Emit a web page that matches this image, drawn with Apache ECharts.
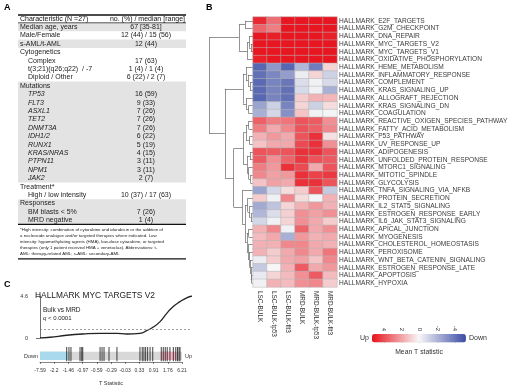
<!DOCTYPE html>
<html>
<head>
<meta charset="utf-8">
<script src="https://cdn.jsdelivr.net/npm/echarts@6/dist/echarts.min.js"></script>
<style>html,body{margin:0;padding:0;background:#fff}#main{width:520px;height:388px}</style>
</head>
<body>
<div id="main"></div>
<script>
// ---------- panel A : patient table
const tableHeader = ['Characteristic (N =27)', 'no. (%) / median [range]'];
const tableGroups = [
  { title: 'Median age, years', value: '67 [35-81]' },
  { title: 'Male/Female', value: '12 (44) / 15 (56)' },
  { title: 's-AML/t-AML', value: '12 (44)' },
  { title: 'Cytogenetics', items: [['Complex', '17 (63)'], ['t(3;21)(q26;q22)  / -7', '1 (4) / 1 (4)'], ['Diploid / Other', '6 (22) / 2 (7)']] },
  { title: 'Mutations', items: [['TP53', '16 (59)'], ['FLT3', '9 (33)'], ['ASXL1', '7 (26)'], ['TET2', '7 (26)'], ['DNMT3A', '7 (26)'],
      ['IDH1/2', '6 (22)'], ['RUNX1', '5 (19)'], ['KRAS/NRAS', '4 (15)'], ['PTPN11', '3 (11)'], ['NPM1', '3 (11)'], ['JAK2', '2 (7)']] },
  { title: 'Treatment*', items: [['High / low intensity', '10 (37) / 17 (63)']] },
  { title: 'Responses', items: [['BM blasts < 5%', '7 (26)'], ['MRD negative', '1 (4)']] }
];
const footnoteLines = [
  '*High intensity: combination of cytarabine and idarubicin or the addition of',
  'a nucleoside analogue and/or targeted therapies where indicated. Low',
  'intensity: hypomethylating agents (HMA), low-dose cytarabine, or targeted',
  'therapies (only 1 patient received HMA + venetoclax). Abbreviations: t-',
  'AML: therapy-related AML; s-AML: secondary-AML'
];

// ---------- panel B : heatmap of mean T statistic
const contrasts = ['LSC-BULK', 'LSC-BULK-tp53', 'LSC-BULK-flt3', 'MRD-BULK', 'MRD-BULK-tp53', 'MRD-BULK-flt3'];
const pathways = [
  'HALLMARK_E2F_TARGETS', 'HALLMARK_G2M_CHECKPOINT', 'HALLMARK_DNA_REPAIR', 'HALLMARK_MYC_TARGETS_V2', 'HALLMARK_MYC_TARGETS_V1',
  'HALLMARK_OXIDATIVE_PHOSPHORYLATION', 'HALLMARK_HEME_METABOLISM', 'HALLMARK_INFLAMMATORY_RESPONSE', 'HALLMARK_COMPLEMENT',
  'HALLMARK_KRAS_SIGNALING_UP', 'HALLMARK_ALLOGRAFT_REJECTION', 'HALLMARK_KRAS_SIGNALING_DN', 'HALLMARK_COAGULATION',
  'HALLMARK_REACTIVE_OXIGEN_SPECIES_PATHWAY', 'HALLMARK_FATTY_ACID_METABOLISM', 'HALLMARK_P53_PATHWAY', 'HALLMARK_UV_RESPONSE_UP',
  'HALLMARK_ADIPOGENESIS', 'HALLMARK_UNFOLDED_PROTEIN_RESPONSE', 'HALLMARK_MTORC1_SIGNALING', 'HALLMARK_MITOTIC_SPINDLE',
  'HALLMARK_GLYCOLYSIS', 'HALLMARK_TNFA_SIGNALING_VIA_NFKB', 'HALLMARK_PROTEIN_SECRETION', 'HALLMARK_IL2_STAT5_SIGNALING',
  'HALLMARK_ESTROGEN_RESPONSE_EARLY', 'HALLMARK_IL6_JAK_STAT3_SIGNALING', 'HALLMARK_APICAL_JUNCTION', 'HALLMARK_MYOGENESIS',
  'HALLMARK_CHOLESTEROL_HOMEOSTASIS', 'HALLMARK_PEROXISOME', 'HALLMARK_WNT_BETA_CATENIN_SIGNALING', 'HALLMARK_ESTROGEN_RESPONSE_LATE',
  'HALLMARK_APOPTOSIS', 'HALLMARK_HYPOXIA'
];
const meanT = [
  [4.8, 3.2, 5.2, 5.2, 5.2, 5.2],
  [3.4, 2.8, 5.2, 5.2, 5.2, 5.2],
  [5.2, 5.0, 5.2, 5.2, 5.2, 5.0],
  [5.2, 5.2, 5.2, 5.2, 5.2, 5.2],
  [5.2, 5.2, 5.2, 5.2, 5.2, 5.2],
  [5.0, 5.2, 5.2, 5.2, 5.2, 5.2],
  [-4.5, -3.0, -4.5, -2.0, -3.8, 0.8],
  [-4.2, -3.5, -2.8, -0.3, 0.8, -1.2],
  [-4.4, -3.6, -4.0, -0.8, -0.2, -0.9],
  [-4.4, -3.6, -4.2, -0.9, -0.2, -2.2],
  [-4.5, -3.6, -4.2, 1.0, 1.6, 1.5],
  [-2.6, -1.2, -3.6, 0.8, -1.2, 0.6],
  [-2.2, -1.0, -3.2, 1.2, -0.2, -0.1],
  [3.5, 2.8, 3.0, 3.8, 3.6, 2.4],
  [2.8, 1.8, 2.6, 3.8, 3.5, 2.6],
  [1.6, 2.2, 1.8, 3.8, 4.6, 0.5],
  [1.2, 1.8, 1.8, 4.0, 4.6, 2.4],
  [3.8, 3.6, 3.8, 4.6, 4.6, 3.8],
  [3.6, 2.4, 3.4, 4.4, 3.8, 3.6],
  [2.8, 2.2, 4.6, 4.0, 1.8, 3.8],
  [2.6, 2.0, 2.2, 4.6, 4.2, 4.4],
  [1.2, 2.0, 1.8, 4.6, 4.6, 3.8],
  [-2.6, -1.0, 0.6, 1.0, 3.8, -1.4],
  [1.0, -0.2, 2.6, 0.6, -0.1, 1.6],
  [-2.4, -1.6, 0.8, 1.6, 2.2, 1.6],
  [-2.0, -0.8, 0.9, 2.4, 2.0, 2.4],
  [-1.0, -0.2, 0.8, 2.4, 1.8, 1.0],
  [1.6, 2.6, -0.2, 3.4, 1.8, 2.4],
  [1.4, 1.8, -2.2, 2.2, 1.6, 1.8],
  [1.6, 1.6, 2.6, 2.6, 1.8, 1.6],
  [1.6, 1.0, 1.8, 2.6, 1.8, 3.0],
  [-0.3, 1.0, 1.8, 2.0, 1.2, 2.6],
  [-1.4, 0.0, 1.6, 3.6, 1.8, 2.2],
  [-0.4, 0.8, 1.4, 2.4, 3.6, 1.4],
  [-0.2, 1.6, 1.4, 2.4, 2.6, 1.0]
];
// row clustering: [left, right, height], leaves are row indexes
const dendroTree = [
  [[0, 1, 0.18], [[2, [3, 4, 0.05], 0.09], 5, 0.13], 0.32],
  [
    [[6, [7, [8, 9, 0.07], 0.11], 0.16], [10, [11, 12, 0.1], 0.15], 0.23],
    [
      [[[13, 14, 0.1], [15, 16, 0.08], 0.16], [[17, 18, 0.07], [19, [20, 21, 0.06], 0.1], 0.13], 0.22],
      [22, [[23, [24, [25, 26, 0.05], 0.08], 0.12], [[27, 28, 0.1], [29, [30, [31, [32, [33, 34, 0.03], 0.05], 0.07], 0.09], 0.11], 0.14], 0.18], 0.25],
      0.44
    ],
    0.64
  ],
  1
];

// ---------- panel C : GSEA running score
const curveRank = [0, 6.6, 17.5, 28.3, 39.5, 50.5, 57, 65.8, 70.2, 74.3, 79, 83.4, 87.5, 92.1, 96.5, 100];
const curveES = [0, 0.08, 0.3, 0.44, 0.51, 0.51, 0.44, 0.51, 0.8, 1.17, 1.79, 2.7, 3.43, 3.98, 4.4, 4.6];
const esCutoff = 1;
const tStatLabels = ['-7.59', '-2.2', '-1.46', '-0.97', '-0.59', '-0.29', '-0.03', '0.33', '0.91', '1.76', '6.21'];
const geneHits = [1.88, 2.04, 2.18, 2.82, 2.94, 3.01, 4.23, 4.37, 4.51, 4.86, 5.42, 7.04, 7.2, 7.32, 7.44, 7.58, 7.75, 7.94,
  8.54, 8.68, 8.82, 8.96, 9.15, 9.39, 9.56, 9.68, 9.79, 9.86];
const barcodeBands = [[0, 10, 0], [0, 1.97, 1], [8.5, 9.6, 2]]; // start, end, kind (0 all, 1 down, 2 up)

const FONT = '"Liberation Sans", Arial, sans-serif';
const bandColors = ['#d8d8d8', '#a9d9ec', '#f4b3c2'];

const chart = echarts.init(document.getElementById('main'));

// graphic helpers
const under = [], over = [];
function text(x, y, s, size, opt) {
  over.push({
    type: 'text', silent: true,
    style: Object.assign({
      x, y, text: s, font: size + 'px ' + FONT, fill: '#222',
      textAlign: 'left', align: 'left', textVerticalAlign: 'middle', verticalAlign: 'middle'
    }, opt || {})
  });
}
function hline(x1, x2, y, w) {
  over.push({ type: 'line', silent: true, shape: { x1, y1: y, x2, y2: y }, style: { stroke: '#111', lineWidth: w } });
}

// panel letters
text(4, 8, 'A', 9, { font: 'bold 9px ' + FONT, fill: '#000' });
text(206, 8, 'B', 9, { font: 'bold 9px ' + FONT, fill: '#000' });
text(4, 285, 'C', 9, { font: 'bold 9px ' + FONT, fill: '#000' });

// table
const TX0 = 18, TX1 = 186, COL2 = 146, ROW0 = 27, ROWH = 8.4;
hline(TX0, TX1, 15, 1.3);
text(20, 19, tableHeader[0], 7, { fill: '#111' });
text(TX1 - 1, 19, tableHeader[1], 7, { fill: '#111', textAlign: 'right', align: 'right' });
hline(TX0, TX1, ROW0 - ROWH / 2, 0.7);
let r = 0;
tableGroups.forEach((grp, gi) => {
  const n = 1 + (grp.items ? grp.items.length : 0);
  if (gi % 2 === 0) {
    under.push({ type: 'rect', silent: true, shape: { x: TX0, y: ROW0 + r * ROWH - ROWH / 2, width: TX1 - TX0, height: n * ROWH }, style: { fill: '#e3e3e3' } });
  }
  text(20, ROW0 + r * ROWH, grp.title, 7);
  if (grp.value) text(COL2, ROW0 + r * ROWH, grp.value, 7, { textAlign: 'center', align: 'center' });
  r++;
  (grp.items || []).forEach(it => {
    const ital = grp.title === 'Mutations' ? 'italic ' : '';
    text(28, ROW0 + r * ROWH, it[0], 7, { font: ital + '7px ' + FONT });
    text(COL2, ROW0 + r * ROWH, it[1], 7, { textAlign: 'center', align: 'center' });
    r++;
  });
});
const tableEnd = ROW0 + r * ROWH - ROWH / 2;
hline(TX0, TX1, tableEnd, 1.3);
footnoteLines.forEach((l, i) => text(20, tableEnd + 5 + i * 6, l, 4.4, { fill: '#222' }));
hline(TX0, TX1, tableEnd + 5 + footnoteLines.length * 6 - 0.5, 1.3);

// panel C texts
text(35, 296, 'HALLMARK MYC TARGETS V2', 8.4, { fill: '#222' });
text(43, 310, 'Bulk vs MRD', 6.5, { fill: '#222' });
over.push({
  type: 'text', silent: true,
  style: { x: 43, y: 318, text: '{i|q} < 0.0001', fontSize: 6, fontFamily: FONT, fill: '#222', verticalAlign: 'middle', textVerticalAlign: 'middle',
    rich: { i: { fontStyle: 'italic', fontSize: 6, fontFamily: FONT, fill: '#222' } } }
});
text(38, 356, 'Down', 5.5, { textAlign: 'right', align: 'right', fill: '#333' });
text(185, 356, 'Up', 5.5, { fill: '#333' });
text(419, 352, 'Mean T statistic', 6.8, { textAlign: 'center', align: 'center', fill: '#333' });

// dendrogram segments from the tree
const segs = [];
function walk(node) {
  if (typeof node === 'number') return { y: node + 0.5, h: 0 };
  const a = walk(node[0]), b = walk(node[1]), h = node[2];
  segs.push({ coords: [[a.h, a.y], [h, a.y]] });
  segs.push({ coords: [[b.h, b.y], [h, b.y]] });
  segs.push({ coords: [[h, a.y], [h, b.y]] });
  return { y: (a.y + b.y) / 2, h };
}
walk(dendroTree);

const heatData = [];
meanT.forEach((row, i) => row.forEach((v, j) => heatData.push([j, i, v])));

const noOuter = { outerBoundsMode: 'none', containLabel: false };
const axisTxt = { fontFamily: FONT, color: '#333' };

chart.setOption({
  animation: false,
  backgroundColor: '#fff',
  textStyle: { fontFamily: FONT },
  grid: [
    Object.assign({ left: 209, top: 17, width: 44, height: 270 }, noOuter),
    Object.assign({ left: 253, top: 17, width: 84, height: 270 }, noOuter),
    Object.assign({ left: 384, top: 334, width: 71, height: 8.5 }, noOuter),
    Object.assign({ left: 40, top: 296, width: 152, height: 42 }, noOuter),
    Object.assign({ left: 40, top: 347, width: 142, height: 15 }, noOuter)
  ],
  xAxis: [
    { gridIndex: 0, type: 'value', min: 0, max: 1, inverse: true, show: false },
    { gridIndex: 1, type: 'category', data: contrasts, axisLine: { show: false }, axisTick: { show: false },
      axisLabel: Object.assign({ rotate: -90, fontSize: 6.4, margin: 4, interval: 0 }, axisTxt) },
    { gridIndex: 2, type: 'value', min: -4, max: 4, interval: 2, inverse: true, position: 'top',
      axisLine: { show: false }, splitLine: { show: false },
      axisTick: { show: true, length: 2, lineStyle: { color: '#333', width: 0.6 } },
      axisLabel: Object.assign({ rotate: -90, fontSize: 6, margin: 3 }, axisTxt) },
    { gridIndex: 3, type: 'value', min: 0, max: 100, show: false },
    { gridIndex: 4, type: 'value', min: 0, max: 10, interval: 1, offset: 4, splitLine: { show: false },
      axisLine: { show: true, lineStyle: { color: '#333', width: 0.6 } },
      axisTick: { show: true, length: 2, lineStyle: { color: '#333', width: 0.6 } },
      axisLabel: Object.assign({ fontSize: 5, margin: 2.5, formatter: v => tStatLabels[Math.round(v)] }, axisTxt),
      name: 'T Statistic', nameLocation: 'middle', nameGap: 14, nameTextStyle: Object.assign({ fontSize: 5.5 }, axisTxt) }
  ],
  yAxis: [
    { gridIndex: 0, type: 'value', min: 0, max: 35, inverse: true, show: false },
    { gridIndex: 1, type: 'category', data: pathways, inverse: true, position: 'right',
      axisLine: { show: false }, axisTick: { show: false },
      axisLabel: Object.assign({ fontSize: 6.6, margin: 2, interval: 0 }, axisTxt, { color: '#3a3a3a' }) },
    { gridIndex: 2, type: 'value', show: false },
    { gridIndex: 3, type: 'value', min: 0, max: 4.6, interval: 4.6, splitLine: { show: false },
      axisLine: { show: true, lineStyle: { color: '#333', width: 0.7 } },
      axisTick: { show: true, length: 4, lineStyle: { color: '#333', width: 0.7 } },
      axisLabel: Object.assign({ fontSize: 5.5, margin: 12 }, axisTxt) },
    { gridIndex: 4, type: 'value', min: 0, max: 1, show: false }
  ],
  visualMap: {
    type: 'continuous', seriesIndex: 1, dimension: 2, min: -5.3, max: 5.3, calculable: false,
    orient: 'horizontal', inverse: true, left: 360, top: 334, padding: 0, itemWidth: 8.5, itemHeight: 94,
    text: ['Up', 'Down'], textGap: 3, textStyle: { fontSize: 7, color: '#333', fontFamily: FONT },
    inRange: { color: ['#3b4da5', '#f7f7f7', '#e8121c'] }
  },
  series: [
    { type: 'lines', coordinateSystem: 'cartesian2d', xAxisIndex: 0, yAxisIndex: 0, silent: true,
      lineStyle: { color: '#666', width: 0.7, opacity: 1 }, data: segs },
    { type: 'heatmap', xAxisIndex: 1, yAxisIndex: 1, data: heatData, silent: true,
      itemStyle: { borderColor: '#b4b4b4', borderWidth: 0.5 } },
    { type: 'line', xAxisIndex: 3, yAxisIndex: 3, smooth: true, symbol: 'none', silent: true,
      lineStyle: { color: '#222', width: 1.3 },
      data: curveRank.map((x, i) => [x, curveES[i]]),
      markLine: { silent: true, symbol: 'none', label: { show: false },
        lineStyle: { color: '#777', type: [2, 2], width: 0.7 }, data: [{ yAxis: esCutoff }] } },
    { type: 'custom', xAxisIndex: 4, yAxisIndex: 4, silent: true, data: barcodeBands, encode: { x: [0, 1] },
      renderItem(params, api) {
        const p0 = api.coord([api.value(0), 0.69]);
        const p1 = api.coord([api.value(1), 0.13]);
        return { type: 'rect', shape: { x: p0[0], y: p0[1], width: p1[0] - p0[0], height: p1[1] - p0[1] },
          style: { fill: bandColors[api.value(2)] } };
      } },
    { type: 'custom', xAxisIndex: 4, yAxisIndex: 4, silent: true, data: geneHits.map(v => [v]), encode: { x: 0 },
      renderItem(params, api) {
        const top = api.coord([api.value(0), 1]);
        const bot = api.coord([api.value(0), 0.05]);
        return { type: 'line', shape: { x1: top[0], y1: top[1], x2: bot[0], y2: bot[1] },
          style: { stroke: '#111', lineWidth: 0.8 } };
      } }
  ],
  graphic: under.concat(over)
});
</script>
</body>
</html>
